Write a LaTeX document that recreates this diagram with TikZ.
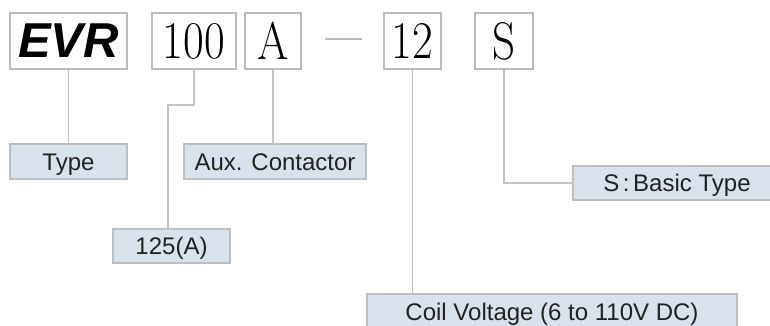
\documentclass[tikz,border=0pt]{standalone}
\usepackage{fontspec}
\newfontfamily\arial{Liberation Sans}
\definecolor{boxgray}{RGB}{187,187,187}
\definecolor{labgray}{RGB}{190,190,190}
\definecolor{labfill}{RGB}{216,226,236}
\definecolor{linegray}{RGB}{195,195,195}
\definecolor{labtext}{RGB}{34,34,34}
\newcommand{\bigserif}[1]{\fontsize{53}{53}\selectfont\scalebox{0.85}[1]{#1}}
\begin{document}
\begin{tikzpicture}[x=1pt,y=-1pt,
  topbox/.style={draw=boxgray, line width=2.2pt, fill=white, inner sep=0pt, minimum height=56pt},
  lab/.style={draw=labgray, line width=2pt, fill=labfill, inner sep=0pt, minimum height=35pt,
    text height=17pt, text depth=0pt, font=\arial\fontsize{24}{24}\selectfont, text=labtext},
  conn/.style={draw=linegray, line width=1.3pt}]
\useasboundingbox (0,0) rectangle (770,326);
\clip (0,0) rectangle (770,326);
% top code boxes
\node[topbox, minimum width=117pt] (evr) at (68.5,41) {\raisebox{-3pt}{\arial\bfseries\itshape\fontsize{49}{49}\selectfont EVR}};
\node[topbox, minimum width=84pt] (n100) at (194,41) {\bigserif{100}};
\node[topbox, minimum width=56pt] (nA) at (273,41) {\bigserif{A}};
\node[topbox, minimum width=57pt] (n12) at (412.5,41) {\bigserif{12}};
\node[topbox, minimum width=58pt] (nS) at (504,41) {\bigserif{S}};
\coordinate (d1) at (325,39);
\coordinate (d2) at (362,39);
\draw[draw=boxgray, line width=1.5pt] (d1) -- (d2);
% label boxes
\node[lab, minimum width=117pt] (type) at (68.5,161.5) {Type};
\node[lab, minimum width=182pt] (aux) at (275,161.5) {Aux. Contactor};
\node[lab, minimum width=117pt, minimum height=34pt] (n125) at (171.5,246) {125(A)};
\node[lab, minimum width=208pt, minimum height=34pt] (sbasic) at (677,183) {S\hspace{0.15em}:\hspace{0.15em}Basic Type};
\node[lab, minimum width=370pt, minimum height=36pt] (coil) at (552,312) {Coil Voltage (6 to 110V DC)};
% connectors
\coordinate (k2) at (168,105);
\draw[conn] (evr.south) -- (type.north);
\draw[conn] (n100.south) |- (k2) -- (k2 |- n125.north);
\draw[conn] (nA.south) -- (nA.south |- aux.north);
\draw[conn] (n12.south) -- (n12.south |- coil.north);
\draw[conn] (nS.south) |- (sbasic.west);
\end{tikzpicture}
\end{document}
